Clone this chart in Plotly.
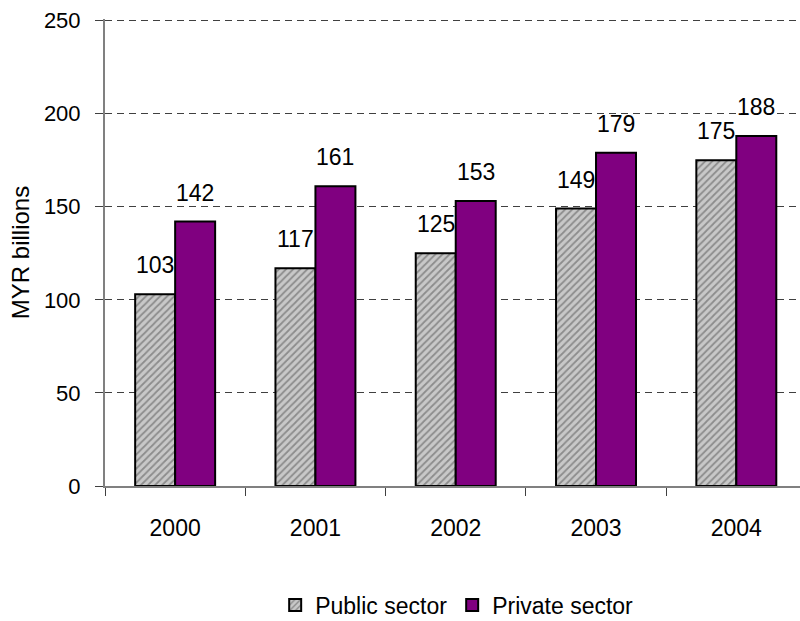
import plotly.graph_objects as go

years = ["2000", "2001", "2002", "2003", "2004"]
public_sector = [103, 117, 125, 149, 175]
private_sector = [142, 161, 153, 179, 188]
y_ticks = [0, 50, 100, 150, 200, 250]

FONT = "Liberation Sans, Arial, sans-serif"

fig = go.Figure()
fig.add_trace(go.Bar(
    x=years, y=public_sector, name="Public sector",
    marker=dict(color="#c0c0c0",
                pattern=dict(shape="/", fgcolor="#505050", bgcolor="#c8c8c8", size=5, solidity=0.35),
                line=dict(color="black", width=2)),
))
fig.add_trace(go.Bar(
    x=years, y=private_sector, name="Private sector",
    marker=dict(color="#800080", line=dict(color="black", width=2)),
))

annotations = []
for i, v in enumerate(public_sector):
    annotations.append(dict(x=i, y=v, xref="x", yref="y", text=str(v), showarrow=False,
                            xshift=-20, yshift=14, yanchor="bottom",
                            font=dict(family=FONT, size=23, color="black")))
for i, v in enumerate(private_sector):
    annotations.append(dict(x=i, y=v, xref="x", yref="y", text=str(v), showarrow=False,
                            xshift=20, yshift=14, yanchor="bottom",
                            font=dict(family=FONT, size=23, color="black")))

fig.update_layout(
    width=800, height=621,
    margin=dict(l=105, r=0, t=19, b=135, autoexpand=False),
    paper_bgcolor="white", plot_bgcolor="white",
    barmode="group", bargap=0.43, bargroupgap=0,
    font=dict(family=FONT, size=22, color="black"),
    annotations=annotations,
    showlegend=True,
    legend=dict(orientation="h", x=0.506, xanchor="center", y=-0.255, yanchor="middle",
                font=dict(family=FONT, size=23, color="black"), itemwidth=30,
                tracegroupgap=0),
)
fig.update_xaxes(
    type="category", range=[-0.5, 4.454],
    showline=True, linecolor="#808080", linewidth=2,
    ticks="outside", tickson="boundaries", ticklen=8, tickcolor="#404040",
    ticklabelstandoff=20,
    showgrid=False, tickfont=dict(family=FONT, size=23),
)
fig.update_yaxes(
    range=[0, 250.8], tickvals=y_ticks,
    showline=True, linecolor="#808080", linewidth=2,
    ticks="outside", ticklen=8, tickcolor="#404040",
    ticklabelstandoff=10,
    showgrid=True, gridcolor="#404040", gridwidth=1, griddash="7px,5px",
    zeroline=False,
    title=dict(text="MYR billions", font=dict(family=FONT, size=24), standoff=7),
    tickfont=dict(family=FONT, size=22),
)

fig.write_html("out.html")
